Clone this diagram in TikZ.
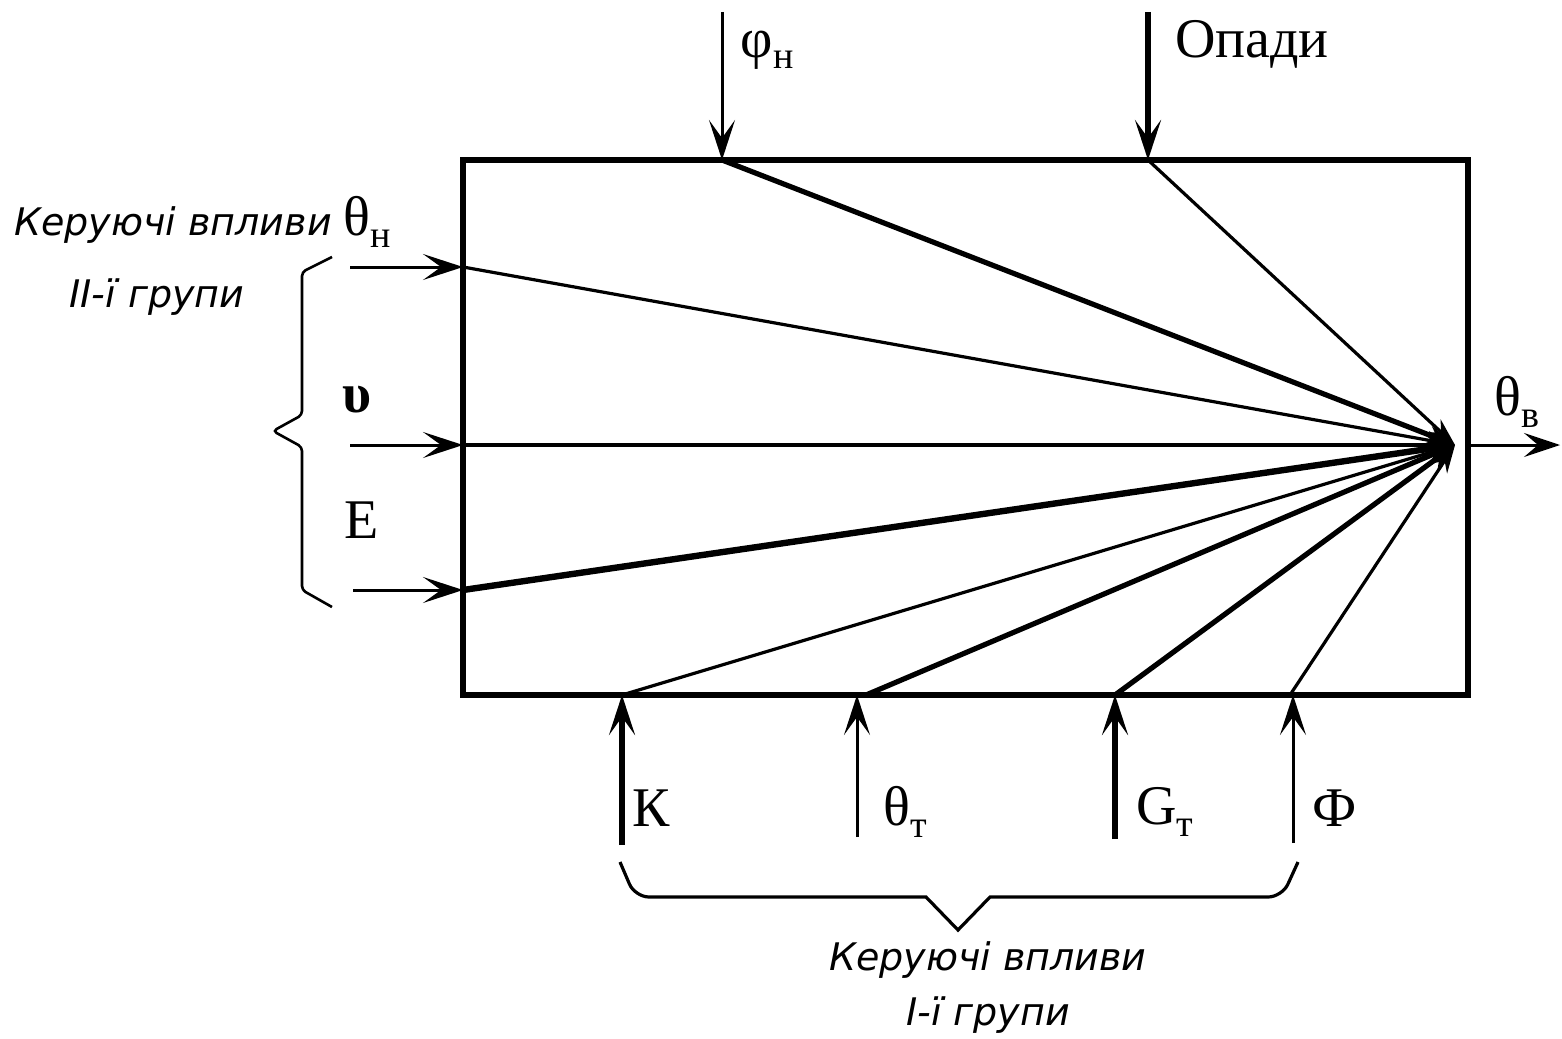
\documentclass[tikz,border=0pt]{standalone}
\usepackage{fontspec}
\setmainfont{Liberation Serif}
\newfontfamily\gost{DejaVu Sans}
\usetikzlibrary{arrows.meta}
\newcommand\lsub[1]{\raisebox{-0.45ex}{\fontsize{19}{19}\selectfont #1}}
\begin{document}
\begin{tikzpicture}[x=0.5pt,y=-0.5pt,
  thinin/.style={line width=1.5pt,-{Stealth[length=20pt,width=13pt,inset=9pt]}},
  thickin/.style={line width=2.8pt,-{Stealth[length=20pt,width=13pt,inset=9pt]}},
  thinray/.style={line width=1.6pt,-{Stealth[length=14pt,width=9pt]}},
  thickray/.style={line width=2.6pt,-{Stealth[length=14pt,width=9pt]}},
  sym/.style={font=\fontsize{28}{30}\selectfont, inner sep=0pt},
  note/.style={font=\gost\itshape\fontsize{19}{22}\selectfont, inner sep=0pt},
  brace/.style={line width=1.3pt}
]
\useasboundingbox (0,0) rectangle (1562,1038);
% box
\draw[line width=3pt] (463,160) rectangle (1468,695);
% coordinates
\coordinate (C) at (1455,445);
\coordinate (Tphs) at (722,12);   \coordinate (Tphe) at (722,160);
\coordinate (Tops) at (1148,12);  \coordinate (Tope) at (1148,160);
\coordinate (L1s) at (350,267);   \coordinate (L1e) at (463,267);
\coordinate (L2s) at (350,445);   \coordinate (L2e) at (463,445);
\coordinate (L3s) at (353,590);   \coordinate (L3e) at (463,590);
\coordinate (B1s) at (622,845);   \coordinate (B1e) at (622,695);
\coordinate (B2s) at (857,837);   \coordinate (B2e) at (857,695);
\coordinate (B3s) at (1115,839);  \coordinate (B3e) at (1115,695);
\coordinate (B4s) at (1293,843);  \coordinate (B4e) at (1293,695);
\coordinate (R2) at (866,695);
\coordinate (R4) at (1290,695);
\coordinate (Os) at (1468,445);   \coordinate (Oe) at (1560,445);
% input arrows
\draw[thinin] (Tphs) -- (Tphe);
\draw[thickin] (Tops) -- (Tope);
\draw[thinin] (L1s) -- (L1e);
\draw[thinin] (L2s) -- (L2e);
\draw[thinin] (L3s) -- (L3e);
\draw[thickin] (B1s) -- (B1e);
\draw[thinin] (B2s) -- (B2e);
\draw[thickin] (B3s) -- (B3e);
\draw[thinin] (B4s) -- (B4e);
% rays to convergence
\draw[thickray] (Tphe) -- (C);
\draw[thinray] (Tope) -- (C);
\draw[thinray] (L1e) -- (C);
\draw[thinray] (L2e) -- (C);
\draw[line width=3.2pt,-{Stealth[length=14pt,width=9pt]}] (L3e) -- (C);
\draw[thinray] (B1e) -- (C);
\draw[thickray] (R2) -- (C);
\draw[thickray] (B3e) -- (C);
\draw[thinray] (R4) -- (C);
% output
\draw[line width=1.5pt,-{Stealth[length=18pt,width=12pt,inset=7pt]}] (Os) -- (Oe);
% braces
\draw[brace, rounded corners=2pt] (332,257) -- (302,272) -- (302,415) -- (273,431) -- (302,447) -- (302,590) -- (332,607);
\draw[brace, line width=1.6pt] (620,862) [rounded corners=7pt] -- (635,897) [sharp corners] -- (926,897) -- (958,930) -- (990,897) [rounded corners=7pt] -- (1282,897) [sharp corners] -- (1298,862);
% labels
\node[sym] (lphi) at (767,50) {φ\lsub{н}};
\node[sym] (lop) at (1252,44) {Опади};
\node[sym] (lth) at (1517,402) {θ\lsub{в}};
\node[sym,font=\bfseries\fontsize{28}{30}\selectfont] (lups) at (357,400) {υ};
\node[sym] (lE) at (362,520) {Е};
\node[sym] (lK) at (651,808) {К};
\node[sym] (lTt) at (905,812) {θ\lsub{т}};
\node[sym] (lGt) at (1165,812) {G\lsub{т}};
\node[sym] (lF) at (1335,808) {Ф};
\node[note, anchor=west] (n2a) at (14,222) {Керуючі впливи {\rmfamily\upshape\fontsize{28}{30}\selectfont θ\lsub{н}}};
\node[note] (n2b) at (157,297) {ІІ-ї групи};
\node[note] (n1a) at (988,960) {Керуючі впливи};
\node[note] (n1b) at (988,1015) {І-ї групи};
\end{tikzpicture}
\end{document}
